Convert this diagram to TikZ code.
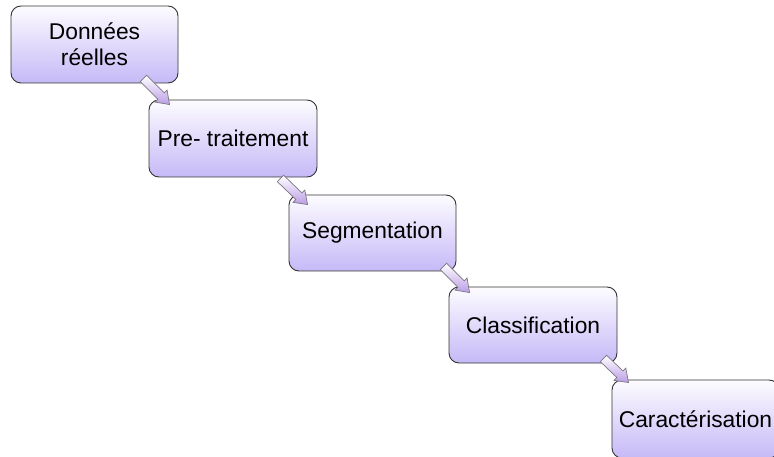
\documentclass[tikz,border=0pt]{standalone}
\usepackage{fontspec}
\setmainfont{Liberation Sans}
\usetikzlibrary{calc}
\definecolor{lav}{RGB}{198,185,247}
\definecolor{lavtop}{RGB}{253,252,255}
\definecolor{arrowedge}{RGB}{120,120,130}
\tikzset{
  stepbox/.style={draw=black!80, line width=0.9pt, rounded corners=10pt,
    top color=lavtop, bottom color=lav, minimum width=167pt, minimum height=76pt,
    inner sep=0pt, align=center, font=\fontsize{22.8}{26}\selectfont},
  blockarrow/.style={draw=arrowedge, line width=0.7pt, top color=white, bottom color=lav!85!violet, line join=miter}
}
\newcommand{\blockarr}[2]{%
  \coordinate (h) at ($(#2)!12pt!(#1)$);
  \path[blockarrow] ($(#1)!4.5pt!90:(#2)$) -- ($(h)!4.5pt!-90:(#1)$) -- ($(h)!8.5pt!-90:(#1)$) -- (#2)
    -- ($(h)!8.5pt!90:(#1)$) -- ($(h)!4.5pt!90:(#1)$) -- ($(#1)!4.5pt!-90:(#2)$) -- cycle;
}
\begin{document}
\begin{tikzpicture}[x=1pt,y=-1pt]
\clip (0,0) rectangle (774,457);
\node[stepbox, minimum height=77pt] (b1) at (94.5,44.5) {Données\\réelles};
\node[stepbox, minimum width=168pt, minimum height=77pt] (b2) at (233,138.5) {Pre- traitement};
\node[stepbox] (b3) at (372.5,233) {Segmentation};
\node[stepbox, minimum width=168pt] (b4) at (533,325) {Classification};
\node[stepbox, minimum height=78pt] (b5) at (695.5,419) {Caractérisation};
\coordinate (t1) at ($(b1.south east)+(-35,-5)$);
\coordinate (e1) at ($(b2.north west)+(21,5)$);
\coordinate (t2) at ($(b2.south east)+(-37,1)$);
\coordinate (e2) at ($(b3.north west)+(19,10)$);
\coordinate (t3) at ($(b3.south east)+(-13,-5)$);
\coordinate (e3) at ($(b4.north west)+(21,6)$);
\coordinate (t4) at ($(b4.south east)+(-14,-5)$);
\coordinate (e4) at ($(b5.north west)+(17,3)$);
\blockarr{t1}{e1}
\blockarr{t2}{e2}
\blockarr{t3}{e3}
\blockarr{t4}{e4}
\end{tikzpicture}
\end{document}
